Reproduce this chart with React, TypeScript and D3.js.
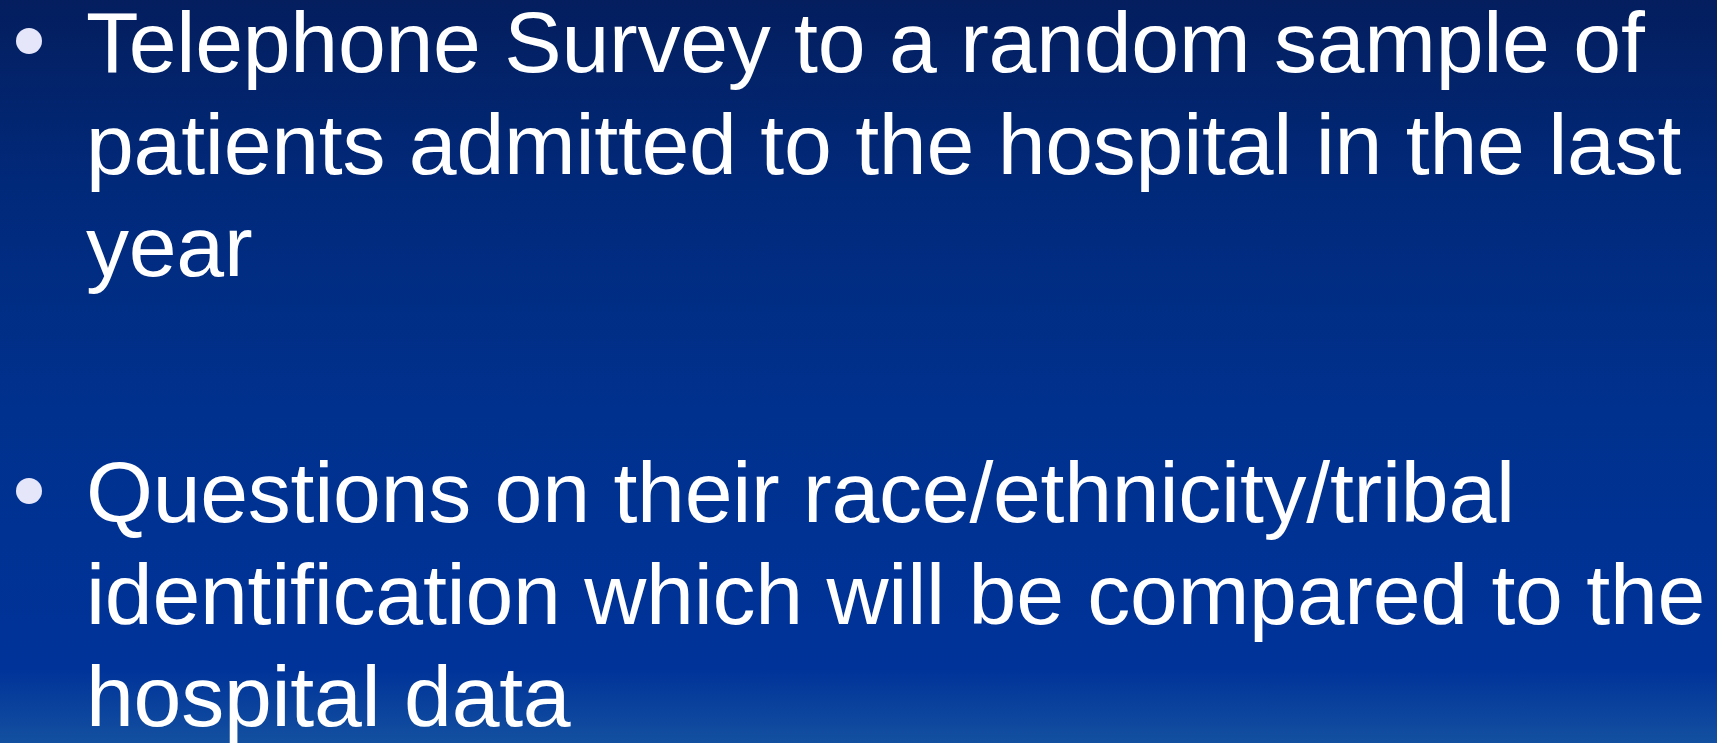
// SlideBullets.tsx
import React, { useEffect, useRef } from 'react';
import * as d3 from 'd3';

const WIDTH = 1717;
const HEIGHT = 743;

const bulletOne = [
  'Telephone Survey to a random sample of',
  'patients admitted to the hospital in the last',
  'year',
];
const bulletTwo = [
  'Questions on their race/ethnicity/tribal',
  'identification which will be compared to the',
  'hospital data',
];
const bullets = [bulletOne, bulletTwo];

// background gradient stops (offset, colour)
const gradientOffsets = [0, 0.25, 0.55, 0.9, 1];
const gradientColors = ['#041e5e', '#01297a', '#00318e', '#003399', '#1350a0'];

const App = () => {
  const svgRef = useRef<SVGSVGElement>(null);

  useEffect(() => {
    const svg = d3.select(svgRef.current);
    svg.selectAll('*').remove();

    const defs = svg.append('defs');
    const grad = defs
      .append('linearGradient')
      .attr('id', 'bg')
      .attr('x1', 0)
      .attr('y1', 0)
      .attr('x2', 0)
      .attr('y2', 1);
    grad
      .selectAll('stop')
      .data(gradientOffsets)
      .enter()
      .append('stop')
      .attr('offset', (d) => d)
      .attr('stop-color', (d, i) => gradientColors[i]);

    svg
      .append('rect')
      .attr('width', WIDTH)
      .attr('height', HEIGHT)
      .attr('fill', 'url(#bg)');

    // line slots: each bullet has its lines, plus a gap between bullets
    const lineHeight = 102;
    const paragraphGap = 144;
    const y = d3.scaleLinear().domain([0, 1]).range([72, 72 + lineHeight]);

    let slot = 0;
    bullets.forEach((lines, bi) => {
      const startY = y(slot) + bi * paragraphGap;
      const g = svg.append('g');

      g.append('circle')
        .attr('cx', 29)
        .attr('cy', startY - 31)
        .attr('r', 13)
        .attr('fill', '#e6e6fa');

      g.selectAll('text')
        .data(lines)
        .enter()
        .append('text')
        .attr('x', 86)
        .attr('y', (d, i) => startY + i * lineHeight)
        .attr('fill', '#ffffff')
        .style('font-family', '"Liberation Sans", Arial, sans-serif')
        .style('font-size', '86px')
        .style('letter-spacing', '-0.25px')
        .text((d) => d);

      slot += lines.length;
    });
  }, []);

  return (
    <svg
      ref={svgRef}
      width={WIDTH}
      height={HEIGHT}
      style={{ position: 'absolute', left: 0, top: 0, display: 'block' }}
    />
  );
};

export default App;
